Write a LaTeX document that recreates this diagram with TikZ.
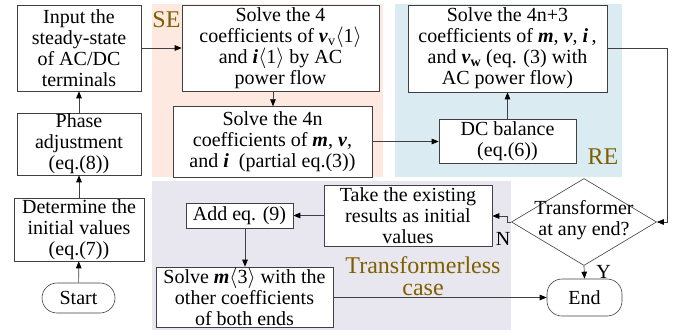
\documentclass[tikz,border=0pt]{standalone}
\usepackage{fontspec}
\setmainfont{Liberation Serif}
\usetikzlibrary{arrows.meta,shapes.geometric,calc}
\definecolor{sefill}{HTML}{FDE9DF}
\definecolor{refill}{HTML}{DAECF1}
\definecolor{tlfill}{HTML}{E8E6EF}
\definecolor{olive}{HTML}{7F6000}
\definecolor{edge}{HTML}{404040}
\newcommand\bv[1]{\textbf{\textit{#1}}}
\begin{document}
\begin{tikzpicture}[x=1pt,y=-1pt,
  box/.style={draw=edge, line width=0.6pt, fill=white, align=center,
    inner sep=0pt, font=\fontsize{20}{21}\selectfont},
  term/.style={box, rounded corners=15pt},
  arr/.style={draw=edge, line width=0.7pt, -{Triangle[length=7pt,width=5.5pt,color=black]}},
  lbl/.style={text=olive, align=center, inner sep=0pt},
  tag/.style={inner sep=0pt, font=\fontsize{20}{21}\selectfont}]
\useasboundingbox (0,0) rectangle (685,333);

% shaded regions
\fill[sefill] (152,4) rectangle (383,177);
\fill[refill] (395,4) rectangle (622,177);
\fill[tlfill] (152,181) rectangle (511,330);

% region labels
\node[lbl, font=\fontsize{24}{22}\selectfont] (se) at (166.5,20) {SE};
\node[lbl, font=\fontsize{24}{22}\selectfont] (re) at (603,157) {RE};
\node[lbl, font=\fontsize{24}{22}\selectfont] (tl) at (423,276) {Transformerless\\case};

% left column
\node[box, minimum width=124pt, minimum height=86pt] (input) at (79,48)
  {Input the\\steady-state\\of AC/DC\\terminals};
\node[box, minimum width=124pt, minimum height=62pt] (phase) at (79,144)
  {Phase\\adjustment\\(eq.(8))};
\node[box, minimum width=130pt, minimum height=63pt] (init) at (79,229.5)
  {Determine the\\initial values\\(eq.(7))};
\node[term, minimum width=73pt, minimum height=30pt] (start) at (78.5,298) {Start};

% SE steps
\node[box, minimum width=197pt, minimum height=86pt] (s4) at (280.5,48)
  {Solve the 4\\coefficients of \bv{v}\textsubscript{v}$\langle$1$\rangle$\\and \bv{i}$\langle$1$\rangle$ by AC\\power flow};
\node[box, minimum width=199pt, minimum height=71pt] (s4n) at (272.5,141.5)
  {Solve the 4n\\coefficients of \bv{m}, \bv{v},\\and \bv{i}\ \ (partial eq.(3))};

% RE steps
\node[box, minimum width=199pt, minimum height=87pt] (s4n3) at (507.5,48.5)
  {Solve the 4n+3\\coefficients of \bv{m}, \bv{v}, \bv{i}\,,\\and \bv{v}\textsubscript{\textbf{w}} (eq. (3) with\\AC power flow)};
\node[box, minimum width=137pt, minimum height=44pt] (dc) at (507.5,141)
  {DC balance\\(eq.(6))};

% decision and transformerless branch
\node[draw=edge, line width=0.6pt, fill=white, diamond, inner sep=0pt,
  minimum width=145pt, minimum height=87pt] (dia) at (584,222)
  {\raisebox{-4pt}[0pt][0pt]{\makebox[0pt]{\fontsize{20}{21}\selectfont
   \begin{tabular}{@{}c@{}}Transformer\\at any end?\end{tabular}}}};
\node[box, minimum width=168pt, minimum height=61pt] (take) at (408,216)
  {Take the existing\\results as initial\\values};
\node[box, minimum width=107pt, minimum height=25pt] (add) at (239.5,215.5)
  {Add eq. (9)};
\node[box, minimum width=177pt, minimum height=60pt] (solvem) at (244.5,297)
  {Solve \bv{m}$\langle$3$\rangle$ with the\\other coefficients\\of both ends};
\node[term, minimum width=75pt, minimum height=37pt] (end) at (584.5,297.5) {End};

\node[tag] (n) at (503,238.5) {N};
\node[tag] (y) at (603.5,271.5) {Y};

\coordinate (turn) at (667,222);

% connectors
\draw[arr] (start) -- (init);
\draw[arr] (init) -- (phase);
\draw[arr] (phase) -- (input);
\draw[arr] (input.east) -- (s4.west |- input.east);
\draw[arr] (s4.south -| s4n.north) ++(0.5,0) -- ++(0,15);
\draw[arr] (s4n.east) -- (dc.west |- s4n.east);
\draw[arr] (dc) -- (s4n3);
\draw[arr] (s4n3.east) -| (turn) -- (dia.east);
\draw[arr] (dia.west) -- ++(-4,0) |- (take.east);
\draw[arr] (take.west |- add.east) -- (add.east);
\draw[arr] (add.south -| 245,0) -- (solvem.north -| 245,0);
\draw[arr] (solvem.east |- end.west) -- (end.west);
\draw[arr] (dia.south) -- (end.north);
\end{tikzpicture}
\end{document}
